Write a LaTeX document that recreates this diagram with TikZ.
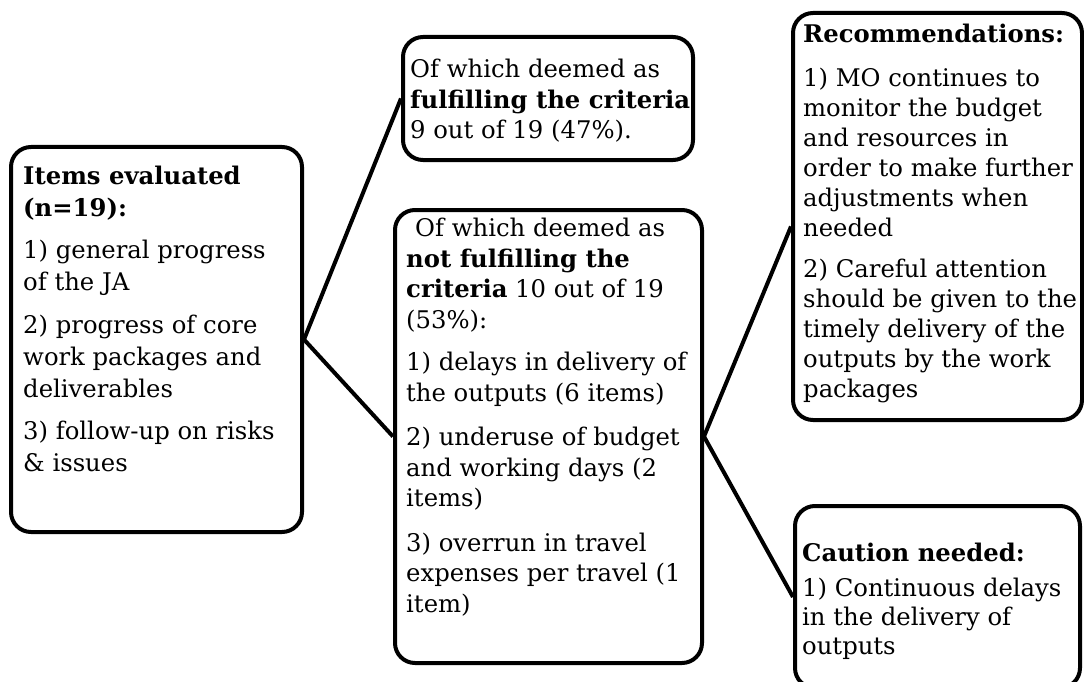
\documentclass[tikz,border=0pt]{standalone}
\usepackage{fontspec}
\setmainfont{DejaVu Serif}
\begin{document}
\begin{tikzpicture}[x=1pt,y=-1pt]
\tikzstyle{panel}=[draw=black, line width=4pt, rounded corners=20pt, inner sep=0pt]
\tikzstyle{txt}=[align=left, inner sep=0pt, anchor=north west, font=\fontsize{24.3}{30.5}\selectfont]
\tikzstyle{link}=[line width=4pt]
\clip (0,0) rectangle (1084,682);
\fill[white] (0,0) rectangle (1084,682);
% boxes
\node[panel, minimum width=291pt, minimum height=385pt] (items) at (156.5,339.5) {};
\node[panel, minimum width=290pt, minimum height=123pt] (fulfil) at (548,98.5) {};
\node[panel, minimum width=307pt, minimum height=453pt] (notful) at (548.5,436.5) {};
\node[panel, minimum width=289pt, minimum height=407pt] (recomm) at (937.5,216.5) {};
\node[panel, minimum width=285pt, minimum height=182pt] (caution) at (937.5,597) {};
% connectors
\draw[link] (items.east) -- (fulfil.west);
\draw[link] (items.east) -- (notful.west);
\draw[link] (notful.east) -- ([yshift=-10pt]recomm.west);
\draw[link] (notful.east) -- (caution.west);
% texts
\node[txt, font=\fontsize{24.3}{32}\selectfont] (items-t) at (23,166) {\textbf{Items evaluated}\\ \textbf{(n=19):}\\[10pt]
  1) general progress\\ of the JA\\[11pt]
  2) progress of core\\ work packages and\\ deliverables\\[10pt]
  3) follow-up on risks\\ \& issues};
\node[txt] (fulfil-t) at (410,59) {Of which deemed as\\ \textbf{fulfilling the criteria}\\ 9 out of 19 (47\%).};
\node[txt] (notful-t) at (406,218) {\hspace*{9pt}Of which deemed as\\ \textbf{not fulfilling the}\\
  \textbf{criteria} 10 out of 19\\ (53\%):\\[12pt]
  1) delays in delivery of\\ the outputs (6 items)\\[14pt]
  2) underuse of budget\\ and working days (2\\ items)\\[14pt]
  3) overrun in travel\\ expenses per travel (1\\ item)};
\node[txt, font=\fontsize{24.3}{30}\selectfont] (recomm-t) at (803,24) {\textbf{Recommendations:}\\[14pt]
  1) MO continues to\\ monitor the budget\\ and resources in\\ order to make further\\ adjustments when\\ needed\\[11pt]
  2) Careful attention\\ should be given to the\\ timely delivery of the\\ outputs by the work\\ packages};
\node[txt, font=\fontsize{24.3}{29}\selectfont] (caution-t) at (802,543) {\textbf{Caution needed:}\\[6pt]
  1) Continuous delays\\ in the delivery of\\ outputs};
\end{tikzpicture}
\end{document}
